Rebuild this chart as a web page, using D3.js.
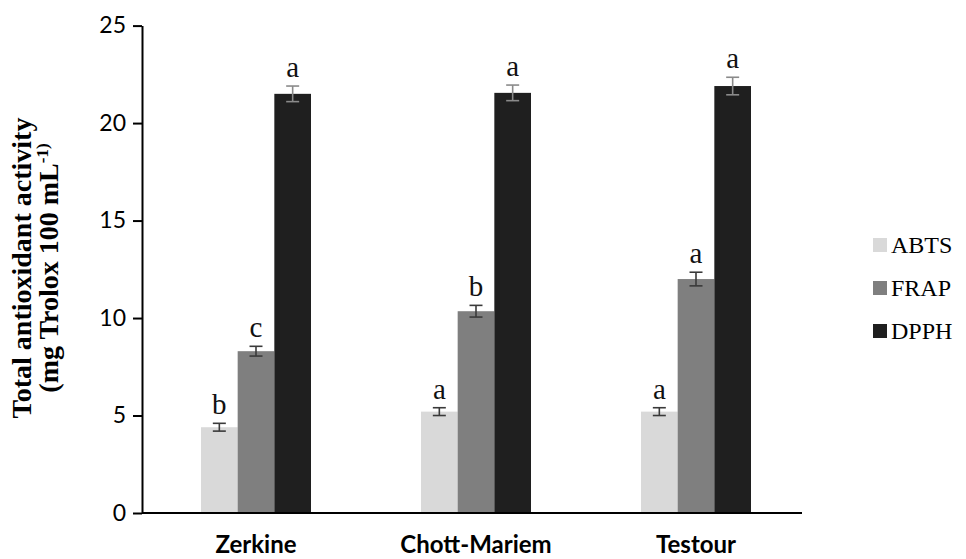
<!DOCTYPE html>
<html>
<head>
<meta charset="utf-8">
<script src="https://cdn.jsdelivr.net/npm/d3@7/dist/d3.min.js"></script>
<style>
  html, body { margin: 0; padding: 0; background: #fff; }
  svg { display: block; }
</style>
</head>
<body>
<svg id="chart" width="966" height="559"></svg>
<script>
// Sampling sites and assays
const sites = ["Zerkine", "Chott-Mariem", "Testour"];
const assays = ["ABTS", "FRAP", "DPPH"];
const assayColors = ["#d9d9d9", "#7f7f7f", "#1f1f1f"];

// Mean activity (mg Trolox 100 mL-1), one array per assay, ordered as sites
const abtsValues = [4.4, 5.2, 5.2];
const frapValues = [8.3, 10.35, 12.0];
const dpphValues = [21.5, 21.55, 21.9];

// Standard deviations
const abtsErrors = [0.2, 0.2, 0.2];
const frapErrors = [0.25, 0.3, 0.35];
const dpphErrors = [0.4, 0.4, 0.45];

// Significance letters
const abtsLetters = ["b", "a", "a"];
const frapLetters = ["c", "b", "a"];
const dpphLetters = ["a", "a", "a"];

const yTicks = [0, 5, 10, 15, 20, 25];

const valuesByAssay = [abtsValues, frapValues, dpphValues];
const errorsByAssay = [abtsErrors, frapErrors, dpphErrors];
const lettersByAssay = [abtsLetters, frapLetters, dpphLetters];

const rows = [];
sites.forEach((site, i) => {
  assays.forEach((assay, j) => {
    rows.push({
      site, assay,
      value: valuesByAssay[j][i],
      err: errorsByAssay[j][i],
      letter: lettersByAssay[j][i],
      color: assayColors[j]
    });
  });
});

const svg = d3.select("#chart");

const axisX = 142, axisRight = 802;
const y = d3.scaleLinear().domain([0, 25]).range([513, 25.6]);
const x0 = d3.scaleBand().domain(sites).range([146, 806])
  .paddingInner(0.5).paddingOuter(0.25);
const x1 = d3.scaleBand().domain(assays).range([0, x0.bandwidth()]);
const color = d3.scaleOrdinal().domain(assays).range(assayColors);

// Bars
svg.append("g")
  .selectAll("rect")
  .data(rows)
  .join("rect")
  .attr("x", d => x0(d.site) + x1(d.assay))
  .attr("y", d => y(d.value))
  .attr("width", x1.bandwidth())
  .attr("height", d => y(0) - y(d.value))
  .attr("fill", d => color(d.assay));

// Error bars
const capHalf = 6.5;
const eg = svg.append("g")
  .attr("stroke-width", 1.6)
  .attr("fill", "none");
const errs = eg.selectAll("g").data(rows).join("g")
  .attr("transform", d => `translate(${x0(d.site) + x1(d.assay) + x1.bandwidth() / 2},0)`)
  .attr("stroke", d => d.assay === "DPPH" ? "#8a8a8a" : "#3a3a3a");
errs.append("line")
  .attr("x1", 0).attr("x2", 0)
  .attr("y1", d => y(d.value + d.err)).attr("y2", d => y(d.value - d.err));
errs.append("line")
  .attr("x1", -capHalf).attr("x2", capHalf)
  .attr("y1", d => y(d.value + d.err)).attr("y2", d => y(d.value + d.err));
errs.append("line")
  .attr("x1", -capHalf).attr("x2", capHalf)
  .attr("y1", d => y(d.value - d.err)).attr("y2", d => y(d.value - d.err));

// Significance letters
svg.append("g")
  .selectAll("text")
  .data(rows)
  .join("text")
  .attr("x", d => x0(d.site) + x1(d.assay) + x1.bandwidth() / 2)
  .attr("y", d => y(d.value + d.err) - 9)
  .attr("text-anchor", "middle")
  .attr("font-family", "'Liberation Serif', 'Times New Roman', serif")
  .attr("font-size", 29)
  .attr("fill", "#111")
  .text(d => d.letter);

// Y axis
const yAxis = svg.append("g")
  .attr("transform", `translate(${axisX},0)`)
  .call(d3.axisLeft(y).tickValues(yTicks).tickSize(9).tickSizeOuter(0).tickPadding(7));
yAxis.select(".domain").attr("stroke", "#000").attr("stroke-width", 2);
yAxis.selectAll(".tick line").attr("stroke", "#000").attr("stroke-width", 2);
yAxis.selectAll(".tick text")
  .attr("font-family", "Lato, 'Open Sans', sans-serif")
  .attr("font-size", 23)
  .attr("fill", "#000");

// X axis
const xAxis = svg.append("g")
  .attr("transform", `translate(0,${y(0)})`)
  .call(d3.axisBottom(x0).tickSize(0).tickPadding(23));
xAxis.select(".domain")
  .attr("d", `M${axisX},0H${axisRight}`)
  .attr("stroke", "#000").attr("stroke-width", 2);
xAxis.selectAll(".tick text")
  .attr("font-family", "Lato, 'Open Sans', sans-serif")
  .attr("font-weight", 700)
  .attr("font-size", 24)
  .attr("fill", "#000");

// Y axis title
const title = svg.append("text")
  .attr("transform", "translate(0,268) rotate(-90)")
  .attr("text-anchor", "middle")
  .attr("font-family", "'Liberation Serif', 'Times New Roman', serif")
  .attr("font-weight", 700)
  .attr("font-size", 28)
  .attr("fill", "#000");
title.append("tspan").attr("x", 0).attr("y", 31).text("Total antioxidant activity");
const line2 = title.append("tspan").attr("x", 0).attr("y", 58);
line2.append("tspan").text("(mg Trolox 100 mL");
line2.append("tspan").attr("font-size", 17).attr("dy", -10).text("-1)");

// Legend
const legend = svg.append("g")
  .selectAll("g")
  .data(assays)
  .join("g")
  .attr("transform", (d, i) => `translate(873,${245 + i * 43})`);
legend.append("rect")
  .attr("x", 0).attr("y", -7)
  .attr("width", 14).attr("height", 14)
  .attr("fill", d => color(d));
legend.append("text")
  .attr("x", 18).attr("y", 8)
  .attr("font-family", "'Liberation Serif', 'Times New Roman', serif")
  .attr("font-size", 24)
  .attr("fill", "#000")
  .text(d => d);
</script>
</body>
</html>
